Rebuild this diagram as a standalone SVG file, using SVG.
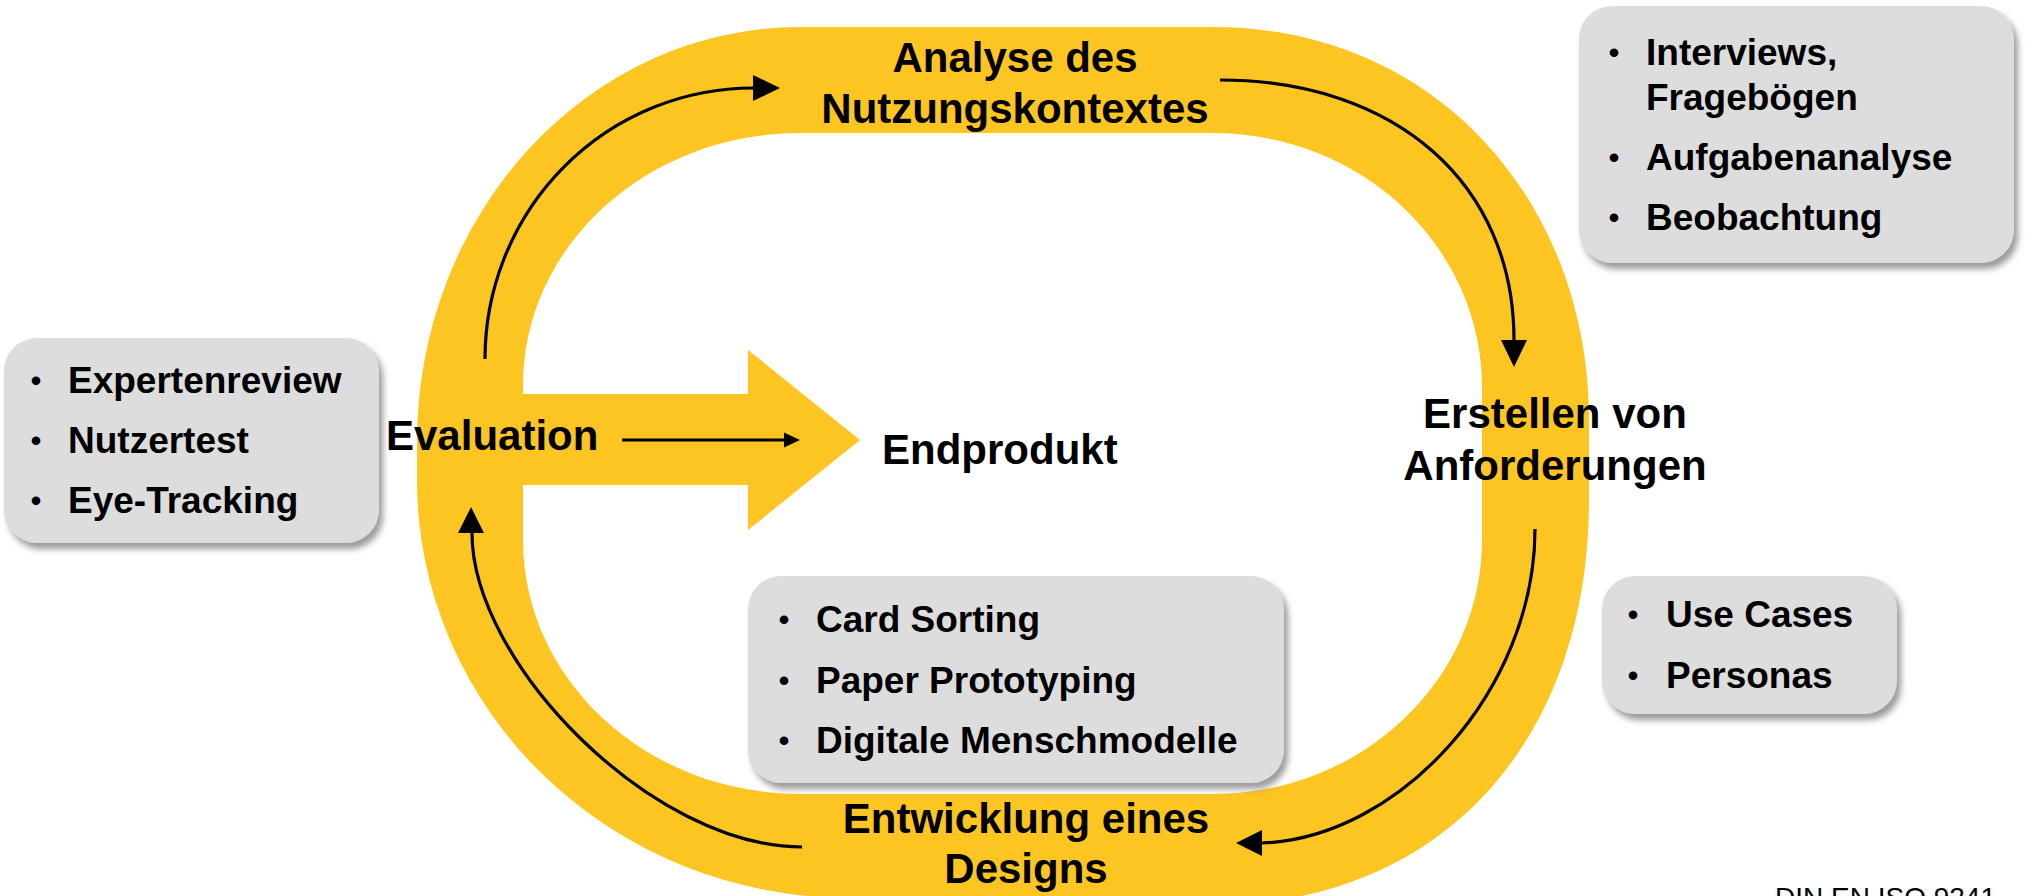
<svg xmlns="http://www.w3.org/2000/svg" width="2034" height="896" viewBox="0 0 2034 896">
  <defs>
    <filter id="shadow" x="-10%" y="-10%" width="125%" height="130%">
      <feDropShadow dx="4" dy="6" stdDeviation="3" flood-color="#7a7a7a" flood-opacity="0.75"/>
    </filter>
  </defs>
  <style>
    .ring { fill: #FDC522; }
    .box { fill: #DDDDDD; filter: url(#shadow); }
    .lbl { font-family: "Liberation Sans", Arial, sans-serif; font-weight: bold; font-size: 42px; fill: #000; }
    .item { font-family: "Liberation Sans", Arial, sans-serif; font-weight: bold; font-size: 37px; fill: #000; }
    .bul { text-anchor: middle; font-size: 30px; }
    .mid { text-anchor: middle; }
    .conn { fill: none; stroke: #000; stroke-width: 3.2; }
    .head { fill: #000; }
    .src { font-family: "Liberation Sans", Arial, sans-serif; font-size: 28px; fill: #000; }
  </style>

  <rect width="2034" height="896" fill="#fff"/>

  <g id="cycle">
    <path class="ring" fill-rule="evenodd" d="M800,27 L1213,27 C1439,27 1589,205 1589,420 L1589,500 C1589,743 1439,905 1213,905 L850,898 A433,418 0 0 1 417,480 L417,442 A383,415 0 0 1 800,27 Z
      M800,133 L1213,133 A269,254 0 0 1 1482,387 L1482,540 A269,254 0 0 1 1213,794 L800,794 A277,254 0 0 1 523,540 L523,385 A277,252 0 0 1 800,133 Z"/>
    <polygon class="ring" points="500,394 748,394 748,350 860,440 748,530 748,485 500,485"/>
  </g>

  <g id="connectors">
    <path class="conn" d="M485,359 A268,271 0 0 1 753,88"/>
    <polygon class="head" points="753,75 780,88 753,101"/>
    <path class="conn" d="M1220,80 C1396,80 1514,184 1514,340"/>
    <polygon class="head" points="1501,340 1514,367 1527,340"/>
    <path class="conn" d="M1535,529 C1535,690 1400,838 1262,843"/>
    <polygon class="head" points="1262,830 1236,843 1262,856"/>
    <path class="conn" d="M802,847 C652,847 472,663 472,533"/>
    <polygon class="head" points="458,533 471,507 484,533"/>
    <line class="conn" x1="622" y1="440" x2="785" y2="440"/>
    <polygon class="head" points="784,432.5 800,440 784,447.5"/>
  </g>

  <g id="node-analyse">
    <text class="lbl mid" x="1015" y="72">Analyse des</text>
    <text class="lbl mid" x="1015" y="123">Nutzungskontextes</text>
  </g>
  <g id="node-anforderungen">
    <text class="lbl mid" x="1555" y="428">Erstellen von</text>
    <text class="lbl mid" x="1555" y="480">Anforderungen</text>
  </g>
  <g id="node-design">
    <text class="lbl mid" x="1026" y="833">Entwicklung eines</text>
    <text class="lbl mid" x="1026" y="883">Designs</text>
  </g>
  <g id="node-evaluation">
    <text class="lbl" x="386" y="450">Evaluation</text>
  </g>
  <g id="node-endprodukt">
    <text class="lbl" x="882" y="464">Endprodukt</text>
  </g>

  <g id="box-analyse-methods">
    <rect class="box" x="1579" y="6" width="435" height="257" rx="33" ry="33"/>
    <text class="item bul" x="1614" y="63">•</text>
    <text class="item" x="1646" y="65">Interviews,</text>
    <text class="item" x="1646" y="110">Fragebögen</text>
    <text class="item bul" x="1614" y="168">•</text>
    <text class="item" x="1646" y="170">Aufgabenanalyse</text>
    <text class="item bul" x="1614" y="228">•</text>
    <text class="item" x="1646" y="230">Beobachtung</text>
  </g>

  <g id="box-evaluation-methods">
    <rect class="box" x="4" y="338" width="375" height="205" rx="33" ry="33"/>
    <text class="item bul" x="36" y="391">•</text>
    <text class="item" x="68" y="393">Expertenreview</text>
    <text class="item bul" x="36" y="451">•</text>
    <text class="item" x="68" y="453">Nutzertest</text>
    <text class="item bul" x="36" y="511">•</text>
    <text class="item" x="68" y="513">Eye-Tracking</text>
  </g>

  <g id="box-design-methods">
    <rect class="box" x="748" y="576" width="536" height="207" rx="33" ry="33"/>
    <text class="item bul" x="784" y="630">•</text>
    <text class="item" x="816" y="632">Card Sorting</text>
    <text class="item bul" x="784" y="691">•</text>
    <text class="item" x="816" y="693">Paper Prototyping</text>
    <text class="item bul" x="784" y="751">•</text>
    <text class="item" x="816" y="753">Digitale Menschmodelle</text>
  </g>

  <g id="box-requirements-methods">
    <rect class="box" x="1602" y="576" width="295" height="138" rx="33" ry="33"/>
    <text class="item bul" x="1633" y="625">•</text>
    <text class="item" x="1666" y="627">Use Cases</text>
    <text class="item bul" x="1633" y="686">•</text>
    <text class="item" x="1666" y="688">Personas</text>
  </g>

  <g id="source">
    <text class="src" x="1775" y="907">DIN EN ISO 9241</text>
  </g>
</svg>
